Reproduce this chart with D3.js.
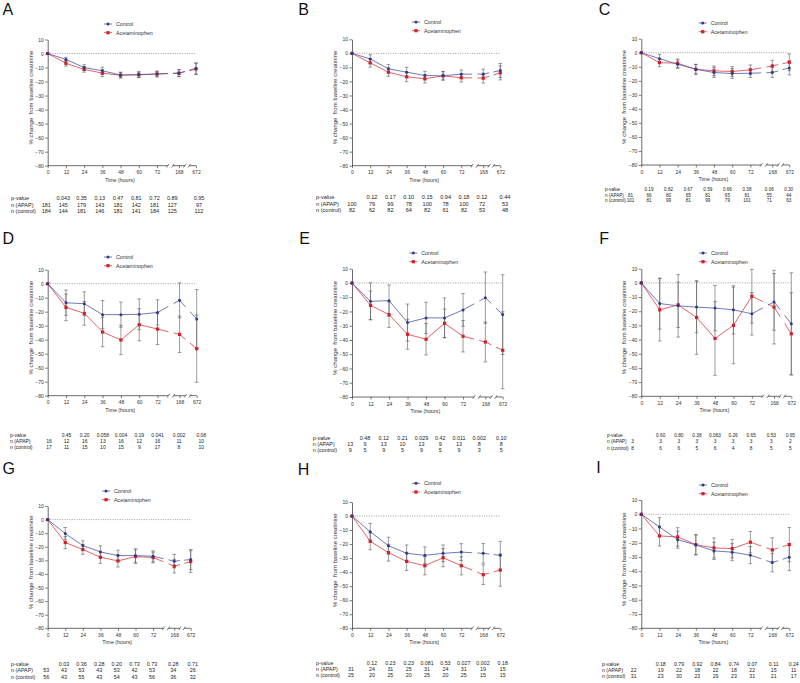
<!DOCTYPE html>
<html>
<head>
<meta charset="utf-8">
<script src="https://cdn.jsdelivr.net/npm/d3@7"></script>
<style>
  html, body { margin: 0; padding: 0; background: #fff; }
  svg { display: block; font-family: "Liberation Sans", Arial, sans-serif; }
</style>
</head>
<body>
<svg id="chart" width="800" height="683"></svg>
<script>
// ---------------- DATA ----------------
const panelLetters = ["A", "B", "C", "D", "E", "F", "G", "H", "I"];
const timePoints = [0, 12, 24, 36, 48, 60, 72, 168, 672];
const xTickLabels = ["0", "12", "24", "36", "48", "60", "72", "168", "672"];
const yTickValues = [10, 0, -10, -20, -30, -40, -50, -60, -70, -80];
const seriesNames = ["Control", "Acetaminophen"];
const tableRowLabels = ["p-value", "n (APAP)", "n (control)"];

const controlMeans = [
  [0, -4.2, -10, -12.3, -15.3, -15, -14.6, -13.9, -10.6],
  [0, -4, -11, -13.4, -15.8, -16, -14.8, -14.8, -12.2],
  [0, -4.2, -8.2, -11.8, -14.1, -14.8, -14.6, -14.1, -10.8],
  [0, -13.6, -14.3, -22.1, -22.1, -21.9, -20.5, -11.9, -25.2],
  [0, -12.9, -12.4, -27.8, -24.5, -24.5, -18.9, -10.3, -22.2],
  [0, -14.6, -16.2, -17.1, -17.8, -19, -21.8, -13.4, -28.9],
  [0, -10.3, -19.1, -23.8, -26.5, -26.5, -27, -30.6, -29.4],
  [0, -11.2, -21.1, -26.6, -28, -26.6, -25.7, -26.6, -28],
  [0, -8.9, -17.8, -21.5, -25.7, -26.6, -28.7, -33.9, -30.1]
];
const controlErr = [
  [0, 1.5, 2, 2.5, 2, 2, 2, 2.5, 4],
  [0, 3, 3, 3.5, 3, 3, 3, 3.5, 5],
  [0, 3, 3, 3.5, 3.5, 3.5, 3, 3.5, 5],
  [0, 9, 8.5, 10, 9, 11, 9, 12.5, 21],
  [0, 13, 11, 13, 11, 14, 11.5, 18, 28],
  [0, 18, 22, 18, 16, 17, 15, 20, 36],
  [0, 4.5, 3.5, 4.5, 4, 5, 4, 5, 7.4],
  [0, 6, 6, 6, 6, 6, 6, 7, 10],
  [0, 6.5, 6, 7, 6, 6, 6, 6.5, 9.5]
];
const apapMeans = [
  [0, -7, -11.3, -14, -15.5, -15.2, -14.6, -14.1, -11],
  [0, -6.8, -13.4, -16.7, -18.1, -16, -17.4, -17.6, -13.9],
  [0, -7, -7.5, -11.8, -12.9, -13.4, -12.2, -9.4, -6.8],
  [0, -16.9, -21.2, -34.5, -40.2, -29.3, -32.4, -36.2, -46.4],
  [0, -15.7, -22.2, -36, -39.5, -28.3, -37.4, -41.4, -47.2],
  [0, -19, -15.5, -24.4, -39.2, -30, -9.4, -17.1, -35.9],
  [0, -16.9, -22, -27.7, -30.4, -27.2, -27.9, -34.3, -30.9],
  [0, -18, -26.1, -32.3, -35.4, -29.7, -35.4, -41.8, -38.5],
  [0, -15.2, -15.9, -21.3, -23.6, -24.1, -19.6, -25, -21.3]
];
const apapErr = [
  [0, 2, 2, 2.5, 2, 2, 2, 2.5, 4],
  [0, 3, 3, 3.5, 3, 3, 3, 3.5, 5],
  [0, 3, 3, 3.5, 3.5, 3.5, 3.5, 4, 6],
  [0, 9.5, 8.5, 10.5, 10.5, 11.5, 11, 13, 24],
  [0, 10, 9, 10.5, 11, 10, 11, 14, 27],
  [0, 22, 16, 26, 26, 27, 19, 26, 29],
  [0, 4.5, 3.5, 4.5, 4.5, 5, 4, 5, 8],
  [0, 6, 6, 6.5, 6.5, 6.5, 6.5, 7, 11.5],
  [0, 7, 6.5, 7, 7, 6.5, 7.5, 8.5, 12]
];
const pValues = [
  ["", "0.043", "0.35", "0.13", "0.47", "0.81", "0.72", "0.89", "0.95"],
  ["", "0.12", "0.17", "0.10", "0.15", "0.94", "0.18", "0.12", "0.44"],
  ["", "0.19", "0.82", "0.67", "0.59", "0.66", "0.38", "0.06", "0.30"],
  ["", "0.45", "0.20", "0.058", "0.004", "0.19", "0.041", "0.002", "0.08"],
  ["", "0.48", "0.12", "0.21", "0.029", "0.42", "0.011", "0.002", "0.10"],
  ["", "0.60", "0.80", "0.38", "0.063", "0.26", "0.65", "0.53", "0.65"],
  ["", "0.03", "0.36", "0.28", "0.20", "0.73", "0.73", "0.28", "0.71"],
  ["", "0.12", "0.23", "0.23", "0.081", "0.53", "0.027", "0.002", "0.18"],
  ["", "0.18", "0.79", "0.92", "0.84", "0.74", "0.07", "0.11", "0.24"]
];
const nApap = [
  [181, 145, 179, 143, 181, 142, 181, 127, 97],
  [100, 79, 99, 78, 100, 78, 100, 72, 53],
  [81, 66, 80, 65, 81, 65, 81, 55, 44],
  [16, 12, 16, 13, 16, 12, 16, 11, 10],
  [13, 9, 13, 10, 13, 9, 13, 8, 8],
  [3, 3, 3, 3, 3, 3, 3, 3, 2],
  [53, 43, 53, 43, 53, 42, 53, 34, 26],
  [31, 24, 31, 25, 31, 24, 31, 19, 15],
  [22, 19, 22, 18, 22, 18, 22, 15, 11]
];
const nControl = [
  [184, 144, 181, 146, 181, 141, 184, 125, 112],
  [82, 62, 82, 64, 82, 61, 82, 53, 48],
  [101, 81, 99, 81, 99, 79, 101, 71, 63],
  [17, 11, 15, 10, 15, 9, 17, 8, 10],
  [9, 5, 9, 5, 9, 5, 9, 3, 5],
  [8, 6, 6, 5, 6, 4, 8, 5, 5],
  [56, 43, 55, 43, 54, 43, 56, 36, 32],
  [25, 20, 25, 20, 25, 20, 25, 15, 15],
  [31, 23, 30, 23, 29, 23, 31, 21, 17]
];

// ---------------- LAYOUT (per panel) ----------------
const layout = [
  {x0: 47.7, L: 148.3, y10: 39.5, y80: 165.7, lx: 2.5, ly: 15, legX: 108, legY: 24, tabLX: 11, tabY: 198.3, tabDy: 6.4, tf: 5.5, c0: 46.3, c1: 63.3, dx: 18.25, c7: 172.3, c8: 199},
  {x0: 352, L: 148.3, y10: 39.3, y80: 165.7, lx: 298.3, ly: 15, legX: 416, legY: 22, tabLX: 316, tabY: 197.3, tabDy: 6.3, tf: 5.6, c0: 352, c1: 372, dx: 18.4, c7: 482, c8: 505},
  {x0: 641.3, L: 148, y10: 38.7, y80: 165, lx: 598.7, ly: 15, legX: 702.7, legY: 23, tabLX: 605, tabY: 189.3, tabDy: 5.7, tf: 4.6, c0: 630.5, c1: 649, dx: 19.6, c7: 769.3, c8: 788.7},
  {x0: 47.7, L: 149, y10: 269.7, y80: 395.7, lx: 2.5, ly: 243.7, legX: 108, legY: 257, tabLX: 10, tabY: 434.7, tabDy: 6.2, tf: 5.0, c0: 49, c1: 66.5, dx: 18.2, c7: 179, c8: 201.3},
  {x0: 352, L: 150.7, y10: 268.7, y80: 397, lx: 299.3, ly: 244, legX: 413.3, legY: 253, tabLX: 312.7, tabY: 438, tabDy: 5.9, tf: 5.4, c0: 350.3, c1: 365, dx: 18.8, c7: 479.3, c8: 501.3},
  {x0: 641.3, L: 150, y10: 268.7, y80: 396.3, lx: 599.3, ly: 244, legX: 703, legY: 253, tabLX: 607, tabY: 435.3, tabDy: 6.3, tf: 4.8, c0: 632.5, c1: 660.7, dx: 18.1, c7: 771.3, c8: 790.3},
  {x0: 47.7, L: 143, y10: 506, y80: 628.3, lx: 2.5, ly: 474.3, legX: 106, legY: 491, tabLX: 11, tabY: 664.3, tabDy: 6.2, tf: 5.4, c0: 46.3, c1: 64, dx: 17.6, c7: 173.3, c8: 192.7},
  {x0: 352, L: 148.3, y10: 502, y80: 628.3, lx: 297.7, ly: 475, legX: 416, legY: 483.3, tabLX: 316, tabY: 662.7, tabDy: 6.2, tf: 5.3, c0: 351, c1: 372, dx: 18.35, c7: 483, c8: 502.7},
  {x0: 641.3, L: 148, y10: 500, y80: 628.3, lx: 596.3, ly: 472.7, legX: 703, legY: 485, tabLX: 602, tabY: 664.3, tabDy: 5.85, tf: 5.2, c0: 633.7, c1: 660.7, dx: 18.3, c7: 773.7, c8: 793.7}
];

// axis segment fractions (broken x-axis)
const segs = [[0, 0.81], [0.845, 0.925], [0.955, 1.0]];

const colCtrlLine = "#4d57a3", colCtrlMark = "#2e3a8c";
const colApapLine = "#dc3c42", colApapMark = "#d0202a";
const colErr = "#5a5a5a", colAxis = "#444", colText = "#333";

const svg = d3.select("#chart");

panelLetters.forEach((letter, pi) => {
  const Lo = layout[pi];
  const g = svg.append("g");
  const x = d3.scaleLinear()
    .domain([0, 72, 168, 672])
    .range([Lo.x0, Lo.x0 + 0.737 * Lo.L, Lo.x0 + 0.885 * Lo.L, Lo.x0 + Lo.L]);
  const y = d3.scaleLinear().domain([10, -80]).range([Lo.y10, Lo.y80]);

  // panel letter
  g.append("text").attr("x", Lo.lx).attr("y", Lo.ly)
    .attr("font-size", 16).attr("fill", "#111").text(letter);

  // y axis
  const ya = g.append("g").attr("transform", `translate(${Lo.x0},0)`)
    .call(d3.axisLeft(y).tickValues(yTickValues).tickSize(2.5).tickSizeOuter(0).tickPadding(1.5));
  ya.select(".domain").attr("stroke", colAxis).attr("stroke-width", 0.8);
  ya.selectAll(".tick line").attr("stroke", colAxis).attr("stroke-width", 0.7);
  ya.selectAll("text").attr("font-size", 5).attr("fill", colText).attr("font-family", null);

  // x axis
  const xa = g.append("g").attr("transform", `translate(0,${Lo.y80})`)
    .call(d3.axisBottom(x).tickValues(timePoints).tickFormat((d, i) => xTickLabels[i]).tickSize(2.5).tickPadding(2.5));
  xa.select(".domain").remove();
  xa.selectAll(".tick line").attr("stroke", colAxis).attr("stroke-width", 0.7);
  xa.selectAll("text").attr("font-size", 5).attr("fill", colText).attr("font-family", null);
  segs.forEach((s, si) => {
    const a = Lo.x0 + s[0] * Lo.L, b = Lo.x0 + s[1] * Lo.L;
    g.append("line").attr("x1", a).attr("x2", b).attr("y1", Lo.y80).attr("y2", Lo.y80)
      .attr("stroke", colAxis).attr("stroke-width", 0.8);
    const ends = [];
    if (si > 0) ends.push(a);
    if (si < segs.length - 1) ends.push(b);
    ends.forEach(e => {
      g.append("line").attr("x1", e - 1.3).attr("x2", e + 1.3)
        .attr("y1", Lo.y80 + 1.8).attr("y2", Lo.y80 - 1.8)
        .attr("stroke", colAxis).attr("stroke-width", 0.7);
    });
  });

  // axis titles
  g.append("text").attr("x", Lo.x0 + Lo.L / 2 - 2).attr("y", Lo.y80 + 16)
    .attr("text-anchor", "middle").attr("font-size", 5.3).attr("fill", colText).text("Time (hours)");
  const yMid = (Lo.y10 + Lo.y80) / 2 - 5;
  g.append("text")
    .attr("transform", `translate(${Lo.x0 - 15},${yMid}) rotate(-90)`)
    .attr("text-anchor", "middle").attr("font-size", 6).attr("fill", colText)
    .attr("xml:space", "preserve")
    .text("% change  from baseline creatinine");

  // zero dotted line
  g.append("line").attr("x1", x(0)).attr("x2", x(672)).attr("y1", y(0)).attr("y2", y(0))
    .attr("stroke", "#888").attr("stroke-width", 0.8).attr("stroke-dasharray", "1,1.4");

  // clip for broken line
  const clipId = "clip" + pi;
  const cp = g.append("clipPath").attr("id", clipId);
  segs.forEach(s => {
    cp.append("rect").attr("x", Lo.x0 + s[0] * Lo.L - (s[0] === 0 ? 5 : 0)).attr("y", 0)
      .attr("width", (s[1] - s[0]) * Lo.L + (s[0] === 0 ? 5 : 0) + (s[1] === 1 ? 5 : 0)).attr("height", 683);
  });

  const series = [
    {means: apapMeans[pi], err: apapErr[pi], line: colApapLine, mark: colApapMark, shape: "square"},
    {means: controlMeans[pi], err: controlErr[pi], line: colCtrlLine, mark: colCtrlMark, shape: "circle"}
  ];

  // error bars
  series.forEach(s => {
    s.means.forEach((m, i) => {
      if (!s.err[i]) return;
      const cx = x(timePoints[i]);
      const yt = y(m + s.err[i]), yb = y(m - s.err[i]);
      g.append("line").attr("x1", cx).attr("x2", cx).attr("y1", yt).attr("y2", yb)
        .attr("stroke", colErr).attr("stroke-width", 0.6);
      [yt, yb].forEach(yy => g.append("line").attr("x1", cx - 1.8).attr("x2", cx + 1.8)
        .attr("y1", yy).attr("y2", yy).attr("stroke", colErr).attr("stroke-width", 0.6));
    });
  });

  // lines
  const lineGen = d3.line().x((d, i) => x(timePoints[i])).y(d => y(d));
  series.forEach(s => {
    g.append("path").attr("d", lineGen(s.means)).attr("fill", "none")
      .attr("stroke", s.line).attr("stroke-width", 0.8).attr("clip-path", `url(#${clipId})`);
  });

  // markers
  series.forEach(s => {
    s.means.forEach((m, i) => {
      const cx = x(timePoints[i]), cy = y(m);
      if (s.shape === "square") {
        g.append("rect").attr("x", cx - 1.6).attr("y", cy - 1.6).attr("width", 3.2).attr("height", 3.2)
          .attr("fill", s.mark);
      } else {
        g.append("circle").attr("cx", cx).attr("cy", cy).attr("r", 1.5).attr("fill", s.mark);
      }
    });
  });

  // legend
  [
    {name: seriesNames[0], line: colCtrlLine, mark: colCtrlMark, shape: "circle", yy: Lo.legY},
    {name: seriesNames[1], line: colApapLine, mark: colApapMark, shape: "square", yy: Lo.legY + 8.7}
  ].forEach(le => {
    g.append("line").attr("x1", Lo.legX - 4).attr("x2", Lo.legX + 4).attr("y1", le.yy).attr("y2", le.yy)
      .attr("stroke", le.line).attr("stroke-width", 0.8);
    if (le.shape === "square") {
      g.append("rect").attr("x", Lo.legX - 1.6).attr("y", le.yy - 1.6).attr("width", 3.2).attr("height", 3.2).attr("fill", le.mark);
    } else {
      g.append("circle").attr("cx", Lo.legX).attr("cy", le.yy).attr("r", 1.5).attr("fill", le.mark);
    }
    g.append("text").attr("x", Lo.legX + 8).attr("y", le.yy + 1.9)
      .attr("font-size", 5.3).attr("fill", colText).text(le.name);
  });

  // table
  const colX = i => i === 0 ? Lo.c0 : (i <= 6 ? Lo.c1 + (i - 1) * Lo.dx : (i === 7 ? Lo.c7 : Lo.c8));
  const rows = [pValues[pi], nApap[pi], nControl[pi]];
  rows.forEach((row, ri) => {
    const ry = Lo.tabY + ri * Lo.tabDy + Lo.tf * 0.36;
    g.append("text").attr("x", Lo.tabLX).attr("y", ry).attr("font-size", Lo.tf)
      .attr("fill", "#222").text(tableRowLabels[ri]);
    row.forEach((v, ci) => {
      if (v === "") return;
      g.append("text").attr("x", colX(ci)).attr("y", ry).attr("text-anchor", "middle")
        .attr("font-size", Lo.tf).attr("fill", "#222").text(v);
    });
  });
});
</script>
</body>
</html>
